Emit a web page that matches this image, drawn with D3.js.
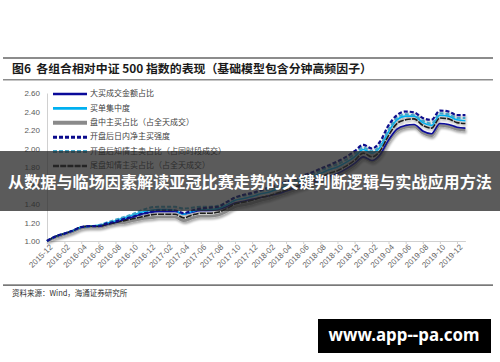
<!DOCTYPE html>
<html>
<head>
<meta charset="utf-8">
<script src="https://cdn.jsdelivr.net/npm/d3@7"></script>
<style>
  body { margin: 0; background: #fff; }
  svg { display: block; font-family: 'Liberation Sans', Arial, sans-serif; }
  .cjk { font-family: 'Noto Sans CJK SC', sans-serif; }
</style>
</head>
<body>
<div id="chart"></div>
<script>
// month starts, last point is the end of the series
const dates = [
  '2015-12-01', '2016-01-01', '2016-02-01', '2016-03-01', '2016-04-01', '2016-05-01', '2016-06-01',
  '2016-07-01', '2016-08-01', '2016-09-01', '2016-10-01', '2016-11-01', '2016-12-01', '2017-01-01',
  '2017-02-01', '2017-03-01', '2017-04-01', '2017-05-01', '2017-06-01', '2017-07-01', '2017-08-01',
  '2017-09-01', '2017-10-01', '2017-11-01', '2017-12-01', '2018-01-01', '2018-02-01', '2018-03-01',
  '2018-04-01', '2018-05-01', '2018-06-01', '2018-07-01', '2018-08-01', '2018-09-01', '2018-10-01',
  '2018-11-01', '2018-12-01', '2019-01-01', '2019-02-01', '2019-03-01', '2019-04-01', '2019-05-01',
  '2019-06-01', '2019-07-01', '2019-08-01', '2019-09-01', '2019-10-01', '2019-11-01', '2019-12-01',
  '2019-12-31',
]

const bigBuyAmount = [
  1.00, 1.05, 1.08, 1.11, 1.15, 1.16, 1.16, 1.18, 1.20, 1.23, 1.26, 1.29, 1.31, 1.32, 1.32, 1.32, 1.29,
  1.31, 1.33, 1.33, 1.34, 1.37, 1.41, 1.43, 1.45, 1.47, 1.49, 1.51, 1.54, 1.57, 1.60, 1.63, 1.67, 1.70,
  1.73, 1.78, 1.84, 1.91, 1.87, 1.93, 2.09, 2.21, 2.25, 2.26, 2.19, 2.16, 2.27, 2.26, 2.23, 2.22,
]
const buyConcentration = [
  1.00, 1.05, 1.08, 1.11, 1.15, 1.16, 1.17, 1.19, 1.22, 1.25, 1.28, 1.31, 1.33, 1.34, 1.34, 1.33, 1.29,
  1.32, 1.34, 1.34, 1.35, 1.39, 1.44, 1.46, 1.48, 1.51, 1.53, 1.56, 1.59, 1.62, 1.66, 1.69, 1.73, 1.77,
  1.80, 1.85, 1.91, 1.99, 1.95, 2.01, 2.18, 2.31, 2.35, 2.35, 2.28, 2.25, 2.36, 2.35, 2.31, 2.30,
]
const intradayActiveBuy = [
  1.00, 1.04, 1.07, 1.10, 1.14, 1.15, 1.15, 1.17, 1.19, 1.20, 1.22, 1.24, 1.25, 1.26, 1.26, 1.26, 1.22,
  1.25, 1.27, 1.27, 1.28, 1.32, 1.37, 1.39, 1.41, 1.44, 1.46, 1.49, 1.52, 1.55, 1.58, 1.61, 1.65, 1.68,
  1.71, 1.76, 1.82, 1.90, 1.86, 1.92, 2.08, 2.19, 2.23, 2.24, 2.17, 2.14, 2.25, 2.24, 2.21, 2.20,
]
const netBuyStrength = [
  1.00, 1.05, 1.08, 1.11, 1.15, 1.16, 1.16, 1.19, 1.21, 1.24, 1.26, 1.29, 1.31, 1.33, 1.33, 1.33, 1.30,
  1.33, 1.35, 1.36, 1.37, 1.42, 1.47, 1.50, 1.52, 1.55, 1.58, 1.61, 1.64, 1.67, 1.71, 1.74, 1.78, 1.82,
  1.86, 1.91, 1.97, 2.04, 2.00, 2.07, 2.25, 2.36, 2.40, 2.39, 2.33, 2.31, 2.41, 2.40, 2.36, 2.36,
]
const informedSell = [
  1.00, 1.05, 1.08, 1.11, 1.15, 1.16, 1.17, 1.20, 1.23, 1.26, 1.29, 1.33, 1.36, 1.37, 1.37, 1.37, 1.35,
  1.36, 1.37, 1.37, 1.38, 1.42, 1.47, 1.49, 1.51, 1.54, 1.56, 1.59, 1.62, 1.65, 1.69, 1.72, 1.76, 1.80,
  1.83, 1.88, 1.94, 2.01, 1.97, 2.03, 2.20, 2.33, 2.37, 2.36, 2.30, 2.27, 2.38, 2.37, 2.33, 2.33,
]
const closingInformedBuy = [
  1.00, 1.05, 1.08, 1.11, 1.15, 1.16, 1.16, 1.18, 1.20, 1.22, 1.24, 1.26, 1.28, 1.29, 1.29, 1.29, 1.25,
  1.28, 1.30, 1.30, 1.31, 1.35, 1.40, 1.42, 1.44, 1.47, 1.49, 1.52, 1.55, 1.58, 1.62, 1.65, 1.69, 1.73,
  1.76, 1.81, 1.87, 1.95, 1.91, 1.97, 2.14, 2.27, 2.31, 2.32, 2.25, 2.22, 2.33, 2.32, 2.28, 2.27,
]

const seriesNames = [
  '大买成交金额占比',
  '买单集中度',
  '盘中主买占比（占全天成交）',
  '开盘后日内净主买强度',
  '开盘后知情主卖占比（占同时段成交）',
  '尾盘知情主买占比（占全天成交）',
]
const yTicks = [1.0, 1.2, 1.4, 1.6, 1.8, 2.0, 2.2, 2.4, 2.6]
const xTickMonths = [
  '2015-12', '2016-02', '2016-04', '2016-06', '2016-08', '2016-10', '2016-12', '2017-02', '2017-04',
  '2017-06', '2017-08', '2017-10', '2017-12', '2018-02', '2018-04', '2018-06', '2018-08', '2018-10',
  '2018-12', '2019-02', '2019-04', '2019-06', '2019-08', '2019-10', '2019-12',
]

const titleText = '图6  各组合相对中证 500 指数的表现（基础模型包含分钟高频因子）'
const sourceText = '资料来源：Wind，海通证券研究所'
const bannerText = '从数据与临场因素解读亚冠比赛走势的关键判断逻辑与实战应用方法'
const watermarkText = 'www.app--pa.com'

const drawChart = () => {
  const W = 500
  const H = 362
  const parse = d3.timeParse('%Y-%m-%d')
  const parseMonth = d3.timeParse('%Y-%m')

  const svg = d3.select('#chart').append('svg').attr('width', W).attr('height', H)

  const defs = svg.append('defs')
  const shadow = defs.append('filter').attr('id', 'shadow')
    .attr('x', '-5%').attr('y', '-20%').attr('width', '110%').attr('height', '140%')
  shadow.append('feDropShadow')
    .attr('dx', 1).attr('dy', 2).attr('stdDeviation', 1)
    .attr('flood-color', '#000').attr('flood-opacity', 0.35)

  // header rules and title
  svg.append('rect').attr('x', 3).attr('y', 57).attr('width', 490).attr('height', 2).attr('fill', '#8c8c8c')
  svg.append('rect').attr('x', 3).attr('y', 79).attr('width', 490).attr('height', 1.5).attr('fill', '#8c8c8c')
  svg.append('text')
    .attr('class', 'cjk')
    .attr('x', 12)
    .attr('y', 72.5)
    .attr('font-size', 11.9)
    .attr('font-weight', 700)
    .attr('fill', '#1a1a1a')
    .attr('xml:space', 'preserve')
    .style('white-space', 'pre')
    .text(titleText)

  // scales
  const x = d3.scaleTime()
    .domain([parse('2015-12-01'), parse('2019-12-31')])
    .range([47, 465.4])
  const y = d3.scaleLinear().domain([1.0, 2.6]).range([241, 93])

  // y axis
  const yAxis = svg.append('g')
    .attr('transform', 'translate(47,0)')
    .call(d3.axisLeft(y).tickValues(yTicks).tickFormat(d3.format('.2f')).tickSize(0).tickPadding(7))
  yAxis.select('.domain').attr('stroke', '#d0d0d0')
  yAxis.selectAll('text').attr('fill', '#595959').attr('font-size', 8)
    .attr('font-family', "'Liberation Sans', Arial, sans-serif")

  // x axis
  const xAxis = svg.append('g')
    .attr('transform', 'translate(0,241)')
    .call(d3.axisBottom(x)
      .tickValues(xTickMonths.map(parseMonth))
      .tickFormat(d3.timeFormat('%Y-%m'))
      .tickSizeInner(3)
      .tickSizeOuter(0))
  xAxis.select('.domain').attr('stroke', '#d0d0d0')
  xAxis.selectAll('line').attr('stroke', '#d0d0d0')
  xAxis.selectAll('text')
    .attr('fill', '#666')
    .attr('font-size', 8)
    .attr('font-family', "'Liberation Sans', Arial, sans-serif")
    .attr('text-anchor', 'end')
    .attr('dy', 0)
    .attr('transform', 'translate(2,3) rotate(-45)')
    .attr('y', 3)
    .attr('x', 0)
    .attr('dominant-baseline', 'middle')

  // series, drawn bottom to top
  const series = [
    { name: seriesNames[2], values: intradayActiveBuy, color: '#8a8a8a', width: 2.8, dash: null, lw: 4, order: 0 },
    { name: seriesNames[0], values: bigBuyAmount, color: '#0a0a9a', width: 1.6, dash: null, lw: 2.6, order: 1 },
    { name: seriesNames[1], values: buyConcentration, color: '#00b0f0', width: 1.6, dash: null, lw: 2.6, order: 2 },
    { name: seriesNames[5], values: closingInformedBuy, color: '#1c1c1c', width: 1.6, dash: '6,1.2', lw: 2.6, order: 3 },
    { name: seriesNames[4], values: informedSell, color: '#3fa6c8', width: 2, dash: '4,2', lw: 3, order: 4 },
    { name: seriesNames[3], values: netBuyStrength, color: '#0a0a8c', width: 2.2, dash: '4,2', lw: 3, order: 5 },
  ]

  const line = d3.line()
    .x((d) => x(d.date))
    .y((d) => y(d.value))
    .curve(d3.curveMonotoneX)

  const lines = svg.append('g').attr('filter', 'url(#shadow)')
  lines.selectAll('path')
    .data(series)
    .join('path')
    .attr('d', (s) => line(s.values.map((v, i) => ({ date: parse(dates[i]), value: v }))))
    .attr('fill', 'none')
    .attr('stroke', (s) => s.color)
    .attr('stroke-width', (s) => s.width)
    .attr('stroke-dasharray', (s) => s.dash)
    .attr('stroke-linejoin', 'round')

  // legend, in the original order
  const legendOrder = [1, 2, 0, 5, 4, 3]
  const legend = svg.append('g').attr('transform', 'translate(53,94)')
  const rows = legend.selectAll('g')
    .data(legendOrder.map((k) => series[k]))
    .join('g')
    .attr('transform', (d, i) => `translate(0, ${i * 14.4})`)
  rows.append('line')
    .attr('x1', 0).attr('x2', 34).attr('y1', 0).attr('y2', 0)
    .attr('stroke', (d) => d.color)
    .attr('stroke-width', (d) => d.lw)
    .attr('stroke-dasharray', (d) => d.dash)
  rows.append('text')
    .attr('class', 'cjk')
    .attr('x', 37)
    .attr('y', 0)
    .attr('dominant-baseline', 'middle')
    .attr('font-size', 8)
    .attr('fill', '#404040')
    .text((d) => d.name)

  // footer
  svg.append('rect').attr('x', 3).attr('y', 284.5).attr('width', 490).attr('height', 1.2).attr('fill', '#404040')
  svg.append('text')
    .attr('class', 'cjk')
    .attr('x', 12)
    .attr('y', 294)
    .attr('dominant-baseline', 'middle')
    .attr('font-size', 7.5)
    .attr('fill', '#303030')
    .text(sourceText)

  // overlay banner
  svg.append('rect')
    .attr('x', 0).attr('y', 151).attr('width', W).attr('height', 60)
    .attr('fill', 'rgba(40,40,40,0.76)')
  svg.append('text')
    .attr('class', 'cjk')
    .attr('x', W / 2)
    .attr('y', 184)
    .attr('text-anchor', 'middle')
    .attr('dominant-baseline', 'middle')
    .attr('font-size', 15.6)
    .attr('font-weight', 700)
    .attr('fill', '#fff')
    .attr('textLength', 484)
    .attr('lengthAdjust', 'spacingAndGlyphs')
    .text(bannerText)

  // watermark
  svg.append('rect')
    .attr('x', 318).attr('y', 319).attr('width', 173).attr('height', 34)
    .attr('fill', '#000')
  svg.append('text')
    .attr('x', 404)
    .attr('y', 336.5)
    .attr('text-anchor', 'middle')
    .attr('dominant-baseline', 'middle')
    .attr('font-family', "'Noto Sans', sans-serif")
    .attr('font-size', 17)
    .attr('font-weight', 700)
    .attr('fill', '#fff')
    .attr('textLength', 151)
    .attr('lengthAdjust', 'spacingAndGlyphs')
    .text(watermarkText)
}

drawChart()
</script>
</body>
</html>
